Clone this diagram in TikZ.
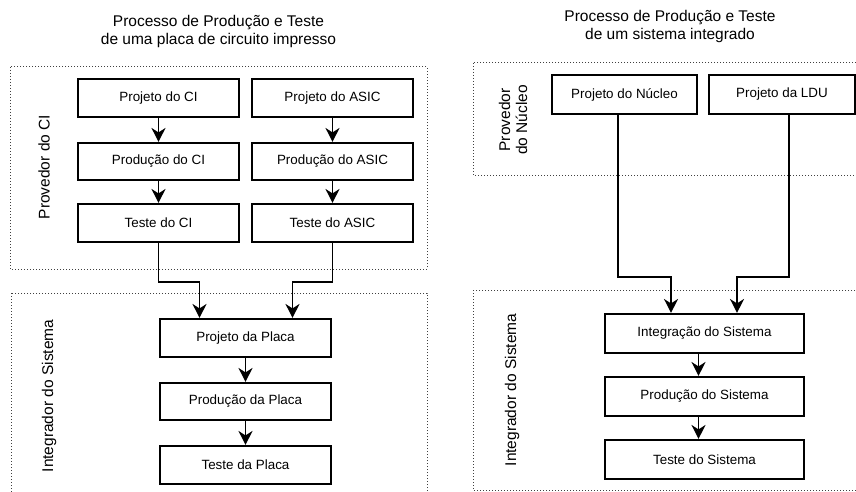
\documentclass[tikz,border=0pt]{standalone}
\usepackage{fontspec}
\setmainfont{Liberation Sans}
\usetikzlibrary{arrows.meta,calc}
\begin{document}
\begin{tikzpicture}[x=1pt,y=-1pt,
  stepbox/.style={draw,line width=2.1pt,inner sep=0pt,font=\fontsize{13.4}{16}\selectfont},
  zone/.style={draw=black!75,dotted,line width=1pt},
  arr/.style={line width=1.6pt,-{Stealth[length=14pt,width=14pt,inset=4.5pt]}},
  ttl/.style={align=center,font=\fontsize{15.5}{18}\selectfont},
  rlab/.style={rotate=90,align=center,font=\fontsize{15.5}{17}\selectfont}]
\useasboundingbox (0,0) rectangle (856,492);
% ---------- left ----------
\node[ttl] (t1) at (218.5,31) {Processo de Produção e Teste\\de uma placa de circuito impresso};
\draw[zone] (10,67) rectangle (427,269);
\draw[zone] (11,293) rectangle (427,496);
\node[rlab] (l1) at (44,167) {Provedor do CI};
\node[rlab] (l2) at (49,396) {Integrador do Sistema};
\node[stepbox,minimum width=161pt,minimum height=38pt] (pci) at (158.5,98) {Projeto do CI};
\node[stepbox,minimum width=161pt,minimum height=38pt] (pasic) at (332.5,98) {Projeto do ASIC};
\node[stepbox,minimum width=161pt,minimum height=37pt] (prci) at (158.5,161.5) {Produção do CI};
\node[stepbox,minimum width=161pt,minimum height=37pt] (prasic) at (332.5,161.5) {Produção do ASIC};
\node[stepbox,minimum width=161pt,minimum height=38pt] (tci) at (158.5,223) {Teste do CI};
\node[stepbox,minimum width=161pt,minimum height=38pt] (tasic) at (332.5,223) {Teste do ASIC};
\node[stepbox,minimum width=171pt,minimum height=38pt] (ppl) at (245.5,338) {Projeto da Placa};
\node[stepbox,minimum width=171pt,minimum height=37pt] (prpl) at (245.5,401.5) {Produção da Placa};
\node[stepbox,minimum width=171pt,minimum height=38pt] (tpl) at (245.5,465) {Teste da Placa};
\draw[arr] (pci) -- (prci);
\draw[arr] (prci) -- (tci);
\draw[arr] (pasic) -- (prasic);
\draw[arr] (prasic) -- (tasic);
\coordinate (j1) at ($(tci.south)+(0,39)$);
\coordinate (j2) at ($(tasic.south)+(0,39)$);
\draw[arr] (tci.south) -- (j1) -| ([xshift=-46pt]ppl.north);
\draw[arr] (tasic.south) -- (j2) -| ([xshift=47pt]ppl.north);
\draw[arr] (ppl) -- (prpl);
\draw[arr] (prpl) -- (tpl);
% ---------- right ----------
\node[ttl] (t2) at (670,26) {Processo de Produção e Teste\\de um sistema integrado};
\draw[zone] (473,63) rectangle (860,175);
\draw[zone] (473,290) rectangle (860,490);
\node[rlab] (l3) at (513,120) {Provedor\\do Núcleo};
\node[rlab] (l4) at (512,390) {Integrador do Sistema};
\node[stepbox,minimum width=145pt,minimum height=39pt] (pn) at (624.5,94.5) {Projeto do Núcleo};
\node[stepbox,minimum width=146pt,minimum height=39pt] (pldu) at (782,94.5) {Projeto da LDU};
\node[stepbox,minimum width=199pt,minimum height=39pt] (int) at (704.5,333.5) {Integração do Sistema};
\node[stepbox,minimum width=199pt,minimum height=39pt] (prs) at (704.5,396.5) {Produção do Sistema};
\node[stepbox,minimum width=199pt,minimum height=39pt] (tsis) at (704.5,459.5) {Teste do Sistema};
\coordinate (j3) at ($(pn.south)+(-6.5,162)$);
\coordinate (j4) at ($(pldu.south)+(7,162)$);
\draw[arr] ([xshift=-6.5pt]pn.south) -- (j3) -| ([xshift=-33.5pt]int.north);
\draw[arr] ([xshift=7pt]pldu.south) -- (j4) -| ([xshift=32.5pt]int.north);
\draw[arr] ([xshift=-6pt]int.south) -- ([xshift=-6pt]prs.north);
\draw[arr] ([xshift=-6pt]prs.south) -- ([xshift=-6pt]tsis.north);
\end{tikzpicture}
\end{document}
